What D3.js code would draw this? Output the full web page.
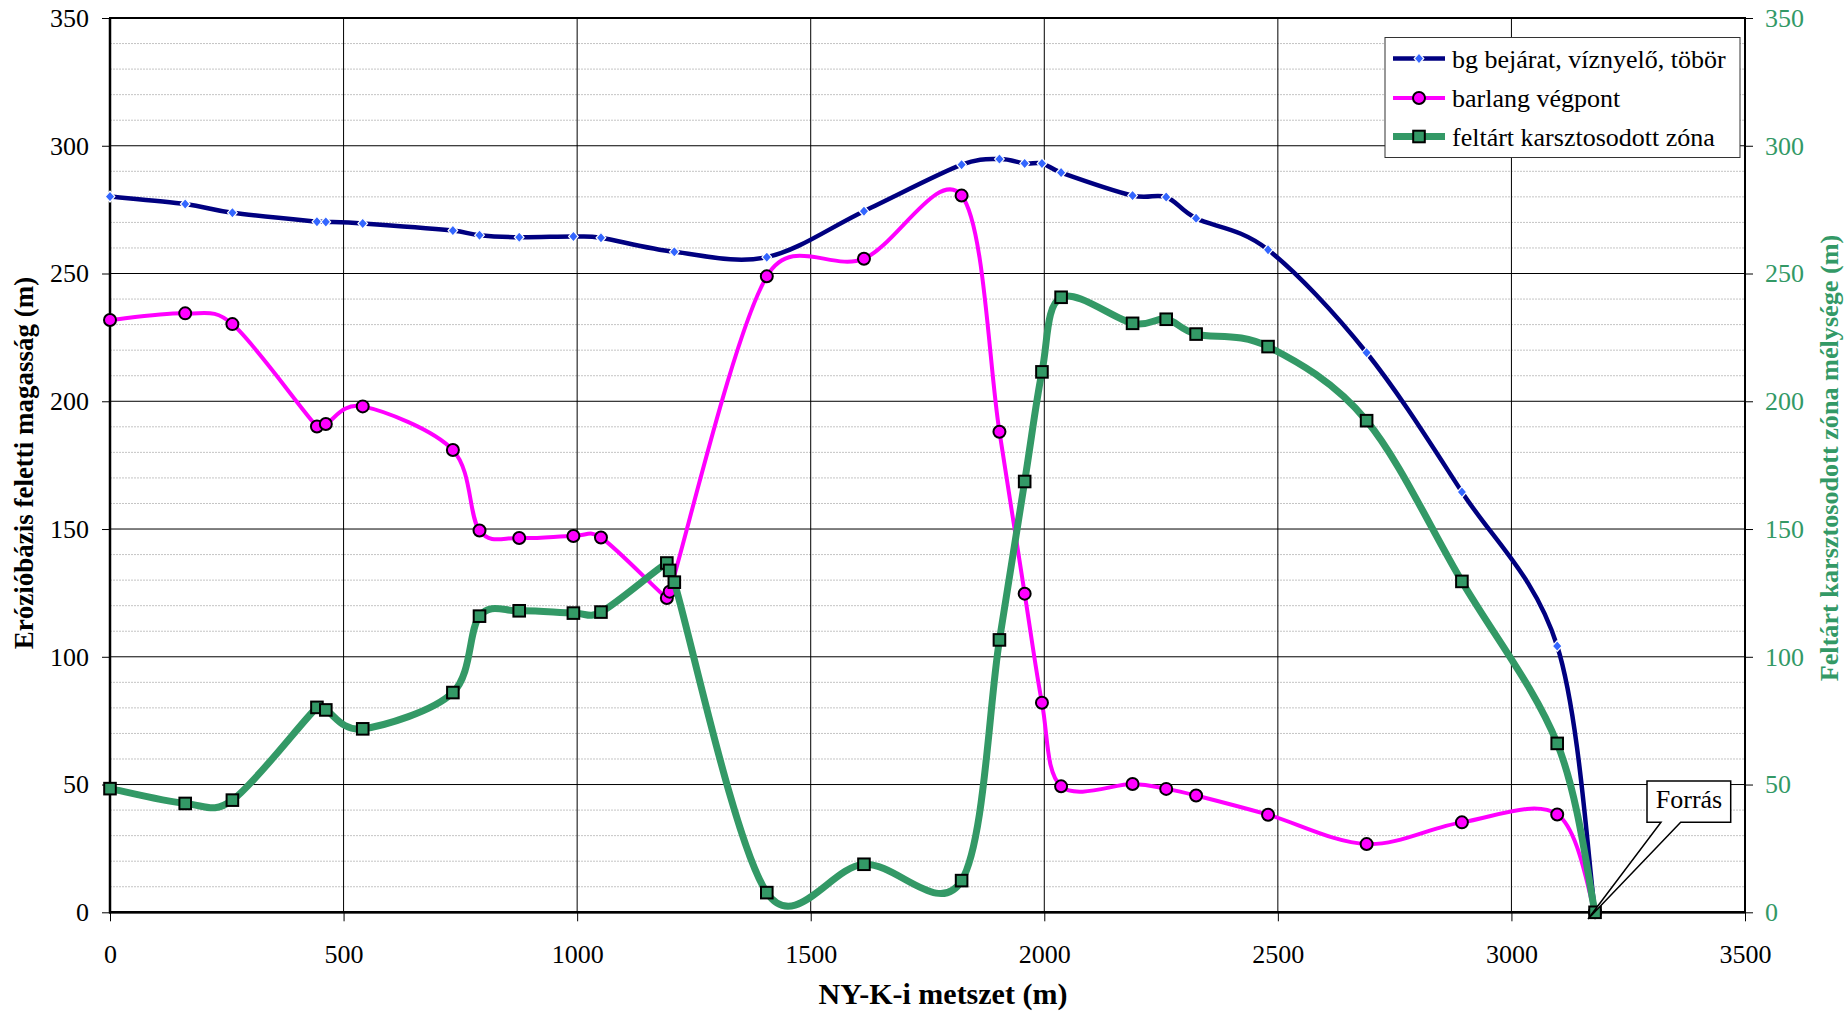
<!DOCTYPE html>
<html>
<head>
<meta charset="utf-8">
<script src="https://cdn.jsdelivr.net/npm/d3@7"></script>
<style>
  html, body { margin: 0; padding: 0; background: #fff; }
  svg { display: block; font-family: "Liberation Serif", "Times New Roman", Tinos, serif; }
  svg text { font-family: "Liberation Serif", "Times New Roman", Tinos, serif; }
</style>
</head>
<body>
<svg id="chart" width="1847" height="1011"></svg>
<script>
// Distance along the NY-K cross-section (m)
const distance = [0, 161, 262, 443, 462, 541, 734, 791, 876, 992, 1051, 1192, 1198, 1208,
  1406, 1614, 1823, 1904, 1958, 1995, 2036, 2189, 2261, 2325, 2479, 2690, 2894, 3098, 3179];

// Cave entrance / sinkhole / doline elevation above the erosion base (m)
const bejarat = [280.1, 277.2, 273.8, 270.3, 270.2, 269.6, 266.8, 265.0, 264.2, 264.5, 264.0, null, null, 258.5,
  256.4, 274.4, 292.6, 294.8, 293.1, 293.1, 289.5, 280.5, 279.9, 271.6, 259.3, 219.0, 164.5, 104.2, 0];

// Cave end point elevation (m)
const vegpont = [231.8, 234.4, 230.2, 190.1, 191.1, 198.0, 180.9, 149.4, 146.5, 147.3, 146.7, 123.0, 125.5, null,
  248.9, 255.8, 280.5, 188.1, 124.7, 82.0, 49.3, 50.2, 48.3, 45.7, 38.2, 26.7, 35.2, 38.3, 0];

// Depth of the explored karstified zone (m, secondary axis)
const zona = [48.4, 42.6, 43.9, 80.2, 79.2, 71.8, 86.0, 115.9, 118.0, 117.1, 117.5, 136.7, 133.8, 129.2,
  7.7, 18.8, 12.4, 106.6, 168.6, 211.5, 240.7, 230.5, 232.1, 226.3, 221.4, 192.4, 129.5, 66.1, 0];

const seriesNames = ["bg bejárat, víznyelő, töbör", "barlang végpont", "feltárt karsztosodott zóna"];
const xTicks = [0, 500, 1000, 1500, 2000, 2500, 3000, 3500];
const yTicks = [0, 50, 100, 150, 200, 250, 300, 350];
const yMinor = d3.range(0, 351, 10).filter(v => v % 50 !== 0);

const FONT = '"Liberation Serif", "Times New Roman", Tinos, serif';
const GREEN = "#339966";
const NAVY = "#000080";
const MAGENTA = "#FF00FF";
const DIAMOND_FILL = "#3366FF";

const box = { left: 110, right: 1745, top: 18, bottom: 912.3 };

const x = d3.scaleLinear().domain([0, 3500]).range([box.left, box.right]);
const y = d3.scaleLinear().domain([0, 350]).range([box.bottom, box.top]);
const y2 = d3.scaleLinear().domain([0, 350]).range([box.bottom, box.top]);

const svg = d3.select("#chart");

// --- grid ---
const grid = svg.append("g");
grid.selectAll("line.minor").data(yMinor).join("line")
  .attr("class", "minor")
  .attr("x1", box.left).attr("x2", box.right)
  .attr("y1", d => y(d)).attr("y2", d => y(d))
  .attr("stroke", "#c4c4c4").attr("stroke-width", 1).attr("stroke-dasharray", "2,1");
grid.selectAll("line.major").data(yTicks.filter(v => v > 0 && v < 350)).join("line")
  .attr("class", "major")
  .attr("x1", box.left).attr("x2", box.right)
  .attr("y1", d => y(d)).attr("y2", d => y(d))
  .attr("stroke", "#000").attr("stroke-width", 1);
grid.selectAll("line.vert").data(xTicks.filter(v => v > 0 && v < 3500)).join("line")
  .attr("class", "vert")
  .attr("x1", d => x(d)).attr("x2", d => x(d))
  .attr("y1", box.top).attr("y2", box.bottom)
  .attr("stroke", "#000").attr("stroke-width", 1);

// --- axes ---
const fmt = d3.format("d");
function styleAxis(g, color) {
  g.attr("font-family", null).attr("font-size", null);
  g.selectAll(".tick line").attr("stroke", "#000").attr("stroke-width", 1);
  g.selectAll(".tick text").attr("fill", color)
    .style("font-family", FONT).style("font-size", "26px");
  g.select(".domain").remove();
}

svg.append("g").attr("transform", `translate(${box.left},0)`)
  .call(d3.axisLeft(y).tickValues(yTicks).tickFormat(fmt).tickSize(8).tickSizeOuter(0).tickPadding(13))
  .call(g => styleAxis(g, "#000"));

svg.append("g").attr("transform", `translate(${box.right},0)`)
  .call(d3.axisRight(y2).tickValues(yTicks).tickFormat(fmt).tickSize(8).tickSizeOuter(0).tickPadding(12))
  .call(g => styleAxis(g, GREEN));

svg.append("g").attr("transform", `translate(0,${box.bottom})`)
  .call(d3.axisBottom(x).tickValues(xTicks).tickFormat(fmt).tickSize(9).tickSizeOuter(0).tickPadding(23))
  .call(g => styleAxis(g, "#000"));

// plot frame
svg.append("rect")
  .attr("x", box.left).attr("y", box.top)
  .attr("width", box.right - box.left).attr("height", box.bottom - box.top)
  .attr("fill", "none").attr("stroke", "#000").attr("stroke-width", 2);
svg.append("line").attr("x1", box.left).attr("x2", box.left).attr("y1", box.top).attr("y2", box.bottom + 1)
  .attr("stroke", "#000").attr("stroke-width", 2.5);
svg.append("line").attr("x1", box.left - 1).attr("x2", box.right).attr("y1", box.bottom).attr("y2", box.bottom)
  .attr("stroke", "#000").attr("stroke-width", 2.5);

// --- axis titles ---
svg.append("text")
  .attr("x", 943).attr("y", 1004)
  .attr("text-anchor", "middle").attr("font-weight", "bold")
  .style("font-family", FONT).style("font-size", "30px")
  .text("NY-K-i metszet (m)");

svg.append("text")
  .attr("transform", "translate(33,463) rotate(-90)")
  .attr("text-anchor", "middle").attr("font-weight", "bold")
  .style("font-family", FONT).style("font-size", "27px")
  .text("Erózióbázis feletti magasság (m)");

svg.append("text")
  .attr("transform", "translate(1838,458) rotate(-90)")
  .attr("text-anchor", "middle").attr("font-weight", "bold")
  .style("font-family", FONT).style("font-size", "26.2px")
  .attr("fill", GREEN)
  .text("Feltárt karsztosodott zóna mélysége (m)");

// --- smoothed line: Catmull-Rom style handles (chord / 6), each handle
//     limited to half of its own segment so close points do not loop ---
function SmoothCurve(context) { this._context = context; }
SmoothCurve.prototype = {
  areaStart() {}, areaEnd() {},
  lineStart() { this._pts = []; },
  point(px, py) { this._pts.push([+px, +py]); },
  lineEnd() {
    const p = this._pts, n = p.length, c = this._context;
    if (!n) return;
    c.moveTo(p[0][0], p[0][1]);
    if (n === 1) return;
    const dist = (a, b) => Math.hypot(b[0] - a[0], b[1] - a[1]);
    const tan = p.map((pt, i) => {
      const a = p[Math.max(i - 1, 0)], b = p[Math.min(i + 1, n - 1)];
      return [(b[0] - a[0]) / 6, (b[1] - a[1]) / 6];
    });
    const limit = (h, maxLen) => {
      const len = Math.hypot(h[0], h[1]);
      return len > maxLen && len > 0 ? [h[0] * maxLen / len, h[1] * maxLen / len] : h;
    };
    for (let i = 0; i < n - 1; i++) {
      const p0 = p[i], p1 = p[i + 1];
      const dSeg = dist(p0, p1);
      const h0 = limit(tan[i], dSeg * 0.5);
      const h1 = limit(tan[i + 1], dSeg * 0.5);
      c.bezierCurveTo(p0[0] + h0[0], p0[1] + h0[1], p1[0] - h1[0], p1[1] - h1[1], p1[0], p1[1]);
    }
  }
};
const curve = ctx => new SmoothCurve(ctx);

function points(values) {
  return distance.map((d, i) => ({ d, v: values[i] })).filter(p => p.v !== null);
}
const diamond = "M0,-5.4L4.8,0L0,5.4L-4.8,0Z";

function drawSeries(values, scale, opts) {
  const pts = points(values);
  const line = d3.line().x(p => x(p.d)).y(p => scale(p.v)).curve(curve);
  const g = svg.append("g");
  g.append("path").datum(pts)
    .attr("d", line)
    .attr("fill", "none").attr("stroke", opts.color).attr("stroke-width", opts.width)
    .attr("stroke-linejoin", "round").attr("stroke-linecap", "round");
  opts.marker(g.selectAll("g.m").data(pts).join("g")
    .attr("class", "m")
    .attr("transform", p => `translate(${x(p.d)},${scale(p.v)})`));
}

const markDiamond = sel => sel.append("path").attr("d", diamond)
  .attr("fill", DIAMOND_FILL).attr("stroke", "#fff").attr("stroke-width", 1.2);
const markCircle = sel => sel.append("circle").attr("r", 6)
  .attr("fill", MAGENTA).attr("stroke", "#000").attr("stroke-width", 2);
const markSquare = sel => sel.append("rect")
  .attr("x", -5.8).attr("y", -5.8).attr("width", 11.6).attr("height", 11.6)
  .attr("fill", GREEN).attr("stroke", "#000").attr("stroke-width", 2);

drawSeries(bejarat, y, { color: NAVY, width: 4.5, marker: markDiamond });
drawSeries(vegpont, y, { color: MAGENTA, width: 4, marker: markCircle });
drawSeries(zona, y2, { color: GREEN, width: 7, marker: markSquare });

// --- legend ---
const legend = svg.append("g");
legend.append("rect")
  .attr("x", 1385).attr("y", 37.5).attr("width", 355).attr("height", 120)
  .attr("fill", "#fff").attr("stroke", "#333").attr("stroke-width", 1);
const legendRows = [
  { name: seriesNames[0], color: NAVY, width: 4.5, marker: markDiamond },
  { name: seriesNames[1], color: MAGENTA, width: 4, marker: markCircle },
  { name: seriesNames[2], color: GREEN, width: 7, marker: markSquare }
];
const rowY = [58.5, 98, 136.5];
legendRows.forEach((r, i) => {
  const g = legend.append("g").attr("transform", `translate(0,${rowY[i]})`);
  g.append("line").attr("x1", 1393).attr("x2", 1445).attr("y1", 0).attr("y2", 0)
    .attr("stroke", r.color).attr("stroke-width", r.width);
  r.marker(g.append("g").attr("transform", "translate(1419,0)"));
  g.append("text").attr("x", 1452).attr("y", 9)
    .style("font-family", FONT).style("font-size", "26px")
    .attr("fill", "#000").text(r.name);
});

// --- spring callout ---
const callout = svg.append("g");
callout.append("path")
  .attr("d", "M1647,781H1730.7V822.3H1680.7L1588,919L1661,822.3H1647Z")
  .attr("fill", "#fff").attr("stroke", "#000").attr("stroke-width", 1.5)
  .attr("stroke-linejoin", "miter");
callout.append("text")
  .attr("x", 1689).attr("y", 808)
  .attr("text-anchor", "middle")
  .style("font-family", FONT).style("font-size", "26px")
  .text("Forrás");
</script>
</body>
</html>
